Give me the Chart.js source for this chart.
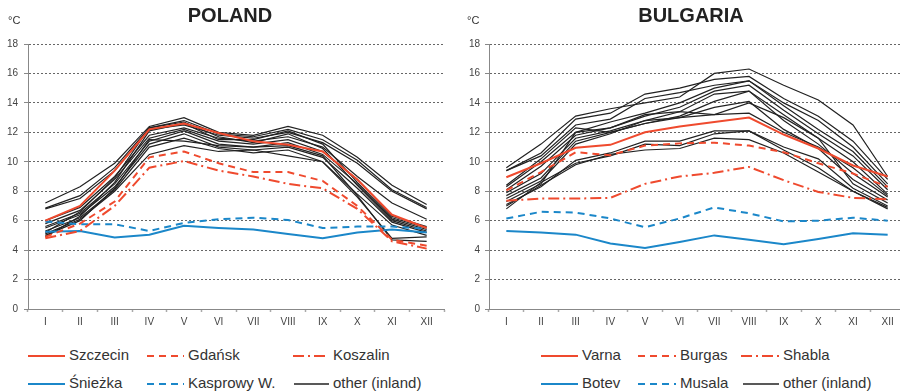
<!DOCTYPE html>
<html><head><meta charset="utf-8">
<script src="https://cdn.jsdelivr.net/npm/chart.js@4"></script>
<style>
html,body{margin:0;padding:0;background:#fff;overflow:hidden;width:900px;height:392px;}
body{position:relative;font-family:"Liberation Sans",Arial,sans-serif;color:#333}
.title{position:absolute;top:4px;font-weight:bold;font-size:20px;color:#222;transform:translateX(-50%);white-space:nowrap}
.unit{position:absolute;top:14px;font-size:11px;color:#333}
canvas{position:absolute;top:0}
.leg{position:absolute;font-size:15px;color:#333;line-height:18px;white-space:nowrap}
</style></head>
<body>
<canvas id="pl" width="450" height="340" style="left:0"></canvas>
<canvas id="bg" width="456" height="340" style="left:450px"></canvas>
<div class="title" style="left:230px">POLAND</div>
<div class="title" style="left:691px">BULGARIA</div>
<div class="unit" style="left:8px">°C</div>
<div class="unit" style="left:467px">°C</div>
<div id="legend"></div>
<script>
// ---------- data ----------
const months = ["I","II","III","IV","V","VI","VII","VIII","IX","X","XI","XII"];
const yTicks = [0,2,4,6,8,10,12,14,16,18];

// Poland
const szczecin = [6.0, 7.0, 9.4, 12.2, 12.6, 11.95, 11.4, 11.15, 10.7, 8.8, 6.4, 5.5];
const gdansk   = [4.9, 5.8, 7.3, 10.3, 10.7, 9.9, 9.3, 9.3, 8.7, 7.0, 4.7, 4.3];
const koszalin = [4.8, 5.3, 7.0, 9.6, 10.05, 9.4, 9.0, 8.5, 8.2, 6.8, 4.6, 4.1];
const sniezka  = [5.25, 5.3, 4.85, 5.05, 5.65, 5.5, 5.4, 5.1, 4.8, 5.2, 5.4, 5.2];
const kasprowy = [5.95, 5.75, 5.75, 5.3, 5.85, 6.1, 6.2, 6.05, 5.5, 5.6, 5.6, 5.45];
const polandOther = [
  [7.2, 8.3, 9.9, 12.4, 13.0, 12.0, 11.8, 12.4, 11.8, 10.3, 8.4, 7.1],
  [6.85, 7.7, 9.6, 12.3, 12.8, 11.9, 11.7, 12.2, 11.5, 10.1, 8.1, 6.9],
  [6.8, 7.5, 9.4, 12.2, 12.5, 11.8, 11.6, 12.0, 11.3, 9.9, 8.0, 6.8],
  [6.0, 6.9, 9.0, 11.8, 12.3, 11.6, 11.4, 11.7, 11.0, 9.0, 7.2, 6.1],
  [5.8, 6.7, 8.8, 11.6, 12.2, 11.4, 11.2, 11.5, 10.7, 8.8, 6.3, 5.6],
  [5.6, 6.5, 8.5, 11.4, 12.1, 11.2, 11.0, 11.3, 10.5, 8.5, 6.1, 5.4],
  [5.5, 6.4, 8.3, 11.2, 11.9, 11.0, 10.8, 11.0, 10.3, 8.2, 5.9, 5.2],
  [5.3, 6.2, 8.1, 11.0, 11.6, 10.9, 10.6, 10.8, 10.0, 7.8, 5.7, 5.0],
  [5.1, 6.1, 8.0, 10.5, 11.1, 10.7, 10.8, 10.4, 10.0, 7.6, 4.8, 4.9],
  [5.0, 6.0, 8.2, 11.5, 11.4, 11.1, 11.0, 11.1, 10.4, 7.7, 4.7, 4.6],
  [4.9, 6.3, 8.6, 12.1, 12.6, 11.5, 11.5, 12.1, 11.2, 8.6, 6.2, 5.5],
  [5.2, 6.6, 8.9, 12.3, 12.7, 11.7, 11.3, 11.9, 10.9, 8.4, 6.0, 5.3]
];

// Bulgaria
const varna  = [8.95, 9.9, 10.95, 11.15, 12.0, 12.4, 12.7, 13.0, 11.85, 10.9, 9.75, 9.0];
const burgas = [8.05, 9.3, 10.65, 10.45, 11.1, 11.25, 11.3, 11.1, 10.65, 9.9, 9.2, 8.3];
const shabla = [7.35, 7.5, 7.5, 7.55, 8.5, 9.0, 9.25, 9.65, 8.75, 7.95, 7.55, 7.45];
const botev  = [5.3, 5.2, 5.05, 4.45, 4.15, 4.55, 5.0, 4.7, 4.4, 4.75, 5.15, 5.05];
const musala = [6.15, 6.6, 6.55, 6.15, 5.55, 6.15, 6.9, 6.5, 5.95, 6.0, 6.2, 6.0];
const bulgariaOther = [
  [9.6, 11.2, 13.1, 13.6, 14.0, 14.4, 16.0, 16.3, 15.2, 14.2, 12.5, 9.0],
  [9.4, 10.6, 12.9, 13.3, 14.6, 15.0, 15.6, 15.8, 14.3, 13.1, 11.4, 8.8],
  [9.4, 10.4, 12.5, 12.9, 14.3, 14.7, 15.2, 15.5, 14.0, 12.8, 11.0, 8.5],
  [8.3, 10.0, 12.0, 12.7, 13.3, 14.0, 15.0, 15.5, 13.8, 12.2, 10.7, 8.3],
  [8.1, 9.7, 11.8, 12.3, 13.1, 13.7, 14.8, 15.2, 13.5, 11.9, 10.4, 8.1],
  [7.9, 9.2, 11.6, 12.1, 12.8, 13.4, 14.6, 14.8, 13.2, 11.6, 10.0, 7.8],
  [7.7, 8.9, 11.4, 12.0, 12.6, 13.1, 14.1, 14.8, 12.8, 11.2, 9.2, 7.6],
  [7.5, 8.7, 11.2, 11.9, 12.8, 13.0, 13.7, 14.1, 12.2, 10.9, 8.8, 7.4],
  [7.3, 8.5, 12.0, 12.3, 13.2, 13.4, 13.2, 14.0, 13.0, 11.6, 8.5, 7.2],
  [7.1, 8.3, 10.1, 10.6, 11.4, 11.4, 12.1, 12.1, 11.0, 10.2, 8.2, 7.0],
  [6.8, 8.6, 9.9, 10.4, 11.2, 11.1, 11.9, 12.1, 10.8, 9.6, 8.0, 6.8],
  [7.0, 8.4, 9.8, 10.5, 10.8, 10.9, 11.6, 11.5, 10.6, 9.3, 8.0, 6.9],
  [8.4, 10.2, 12.3, 12.0, 12.6, 13.0, 13.2, 13.3, 12.0, 11.0, 9.6, 7.7]
];

// ---------- styles ----------
const RED = '#EF4A2E', BLUE = '#1B87C9', BLACK = '#222222';
const SOLID = [], DASH = [7,5], DASHDOT = [11,4,2,4];

function named(label, data, color, dash) {
  return {label, data, borderColor: color, borderWidth: 2, borderDash: dash,
          pointRadius: 0, tension: 0, fill: false};
}
function others(arr) {
  return arr.map(d => ({label: 'other (inland)', data: d, borderColor: BLACK,
          borderWidth: 1.2, pointRadius: 0, tension: 0, fill: false}));
}

function makeChart(id, datasets, yWidth, padRight, yPad) {
  return new Chart(document.getElementById(id), {
    type: 'line',
    data: {labels: months, datasets},
    options: {
      responsive: false, animation: false, devicePixelRatio: 1,
      layout: {padding: {top: 44, left: 0, right: padRight, bottom: 0}},
      plugins: {legend: {display: false}, title: {display: false}, tooltip: {enabled: false}},
      scales: {
        x: {
          type: 'category', offset: true,
          grid: {display: true, drawOnChartArea: false, drawTicks: true, tickLength: 3,
                 offset: true, tickColor: '#aaa', tickWidth: 1.5},
          border: {display: true, color: '#888', width: 1},
          ticks: {color: '#444', font: {family: 'Liberation Sans, Arial', size: 10}, padding: 4,
                  maxRotation: 0, autoSkip: false},
          afterFit: s => { s.height = 31; }
        },
        y: {
          min: 0, max: 18,
          afterBuildTicks: s => { s.ticks = yTicks.map(v => ({value: v})); },
          grid: {color: '#666', lineWidth: 1, drawTicks: true, tickLength: 4,
                 tickColor: '#888', tickBorderDash: []},
          border: {display: true, color: '#888', width: 1, dash: [2,2]},
          ticks: {color: '#444', font: {family: 'Liberation Sans, Arial', size: 10}, padding: yPad},
          afterFit: s => { s.width = yWidth; }
        }
      }
    }
  });
}

makeChart('pl', [
  named('Szczecin', szczecin, RED, SOLID),
  named('Gdańsk', gdansk, RED, DASH),
  named('Koszalin', koszalin, RED, DASHDOT),
  named('Śnieżka', sniezka, BLUE, SOLID),
  named('Kasprowy W.', kasprowy, BLUE, DASH),
  ...others(polandOther)
], 28, 6, 6);

makeChart('bg', [
  named('Varna', varna, RED, SOLID),
  named('Burgas', burgas, RED, DASH),
  named('Shabla', shabla, RED, DASHDOT),
  named('Botev', botev, BLUE, SOLID),
  named('Musala', musala, BLUE, DASH),
  ...others(bulgariaOther)
], 39, 1, 5);

// ---------- legend ----------
const legendItems = [
  ['Szczecin', RED, SOLID, 28, 69, 0], ['Gdańsk', RED, DASH, 147, 188, 0], ['Koszalin', RED, DASHDOT, 293, 333, 0],
  ['Śnieżka', BLUE, SOLID, 28, 69, 1], ['Kasprowy W.', BLUE, DASH, 147, 188, 1], ['other (inland)', BLACK, SOLID, 294, 333, 1],
  ['Varna', RED, SOLID, 541, 582, 0], ['Burgas', RED, DASH, 638, 680, 0], ['Shabla', RED, DASHDOT, 741, 783, 0],
  ['Botev', BLUE, SOLID, 541, 582, 1], ['Musala', BLUE, DASH, 638, 680, 1], ['other (inland)', BLACK, SOLID, 743, 783, 1]
];
const leg = document.getElementById('legend');
legendItems.forEach(([text, color, dash, lx, tx, row]) => {
  const cy = row ? 384 : 356;
  const w = tx - lx - 4;
  const isBlack = color === BLACK;
  const svg = document.createElementNS('http://www.w3.org/2000/svg','svg');
  svg.setAttribute('width', w); svg.setAttribute('height', 6);
  svg.style.position = 'absolute'; svg.style.left = lx + 'px'; svg.style.top = (cy - 3) + 'px';
  const ln = document.createElementNS('http://www.w3.org/2000/svg','line');
  ln.setAttribute('x1', 0); ln.setAttribute('x2', w); ln.setAttribute('y1', 3); ln.setAttribute('y2', 3);
  ln.setAttribute('stroke', color); ln.setAttribute('stroke-width', isBlack ? 1.3 : 2);
  if (dash.length) ln.setAttribute('stroke-dasharray', dash.join(' '));
  svg.appendChild(ln); leg.appendChild(svg);
  const d = document.createElement('div');
  d.className = 'leg'; d.textContent = text;
  d.style.left = tx + 'px'; d.style.top = (cy - 10) + 'px';
  leg.appendChild(d);
});
</script>
</body></html>
